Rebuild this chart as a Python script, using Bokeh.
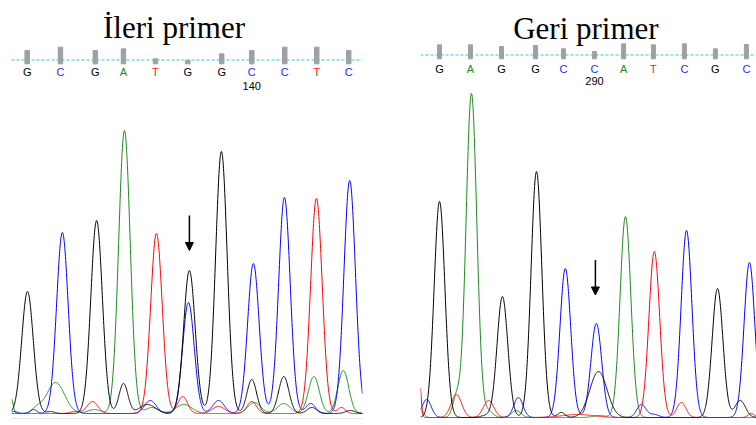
import numpy as np
from bokeh.plotting import figure
from bokeh.models import Range1d, Span, Label, Arrow, NormalHead, ColumnDataSource
from bokeh.layouts import row
from bokeh.embed import file_html
from bokeh.resources import INLINE
from bokeh.core.properties import value

# ---------------- data: left panel (forward primer) ----------------
L_title = "İleri primer"
L_bases = ["G", "C", "G", "A", "T", "G", "G", "C", "C", "T", "C"]
L_base_pos = [133.00, 134.04, 135.13, 136.01, 137.01, 138.02, 139.08, 140.02, 141.05, 142.05, 143.05]
L_qual = [40, 50, 40, 45, 15, 10, 30, 40, 50, 50, 40]
L_pos_label = "140"
L_pos_label_x = 140.02
L_arrow_x = 138.07
L_arrow_y = [1980, 1630]

# peaks per channel: centre (base units), height (signal), sigma (base units)
L_G_pos = [133.01, 135.17, 138.07, 139.07, 133.73, 136.01, 136.76, 140.02, 141.02, 141.90, 143.10]
L_G_h   = [1220, 1930, 1430, 2620, 20, 300, 90, 340, 370, 60, 30]
L_G_w   = [0.18, 0.18, 0.18, 0.18, 0.12, 0.14, 0.25, 0.15, 0.16, 0.15, 0.15]
L_A_pos = [136.04, 132.50, 133.30, 133.89, 135.10, 136.90, 137.90, 140.10, 141.02, 141.96, 142.88]
L_A_h   = [2830, 150, 50, 310, 40, 60, 90, 110, 100, 370, 430]
L_A_w   = [0.18, 0.06, 0.15, 0.28, 0.20, 0.20, 0.25, 0.20, 0.20, 0.17, 0.17]
L_C_pos = [134.10, 138.04, 140.07, 141.04, 143.08, 133.20, 136.85, 138.98, 141.86, 132.60]
L_C_h   = [1810, 1110, 1500, 2160, 2330, 40, 130, 130, 100, 20]
L_C_w   = [0.18, 0.18, 0.18, 0.18, 0.18, 0.10, 0.18, 0.18, 0.15, 0.10]
L_T_pos = [137.04, 142.04, 135.04, 137.86, 138.98, 140.02, 142.82, 134.50]
L_T_h   = [1800, 2150, 120, 170, 70, 120, 60, 20]
L_T_w   = [0.18, 0.18, 0.17, 0.15, 0.20, 0.15, 0.12, 0.15]

# ---------------- data: right panel (reverse primer) ----------------
R_title = "Geri primer"
R_bases = ["G", "A", "G", "G", "C", "C", "A", "T", "C", "G", "C"]
R_base_pos = [285.00, 286.01, 287.02, 288.13, 289.04, 290.05, 291.00, 291.97, 292.98, 293.99, 295.00]
R_qual = [42, 42, 37, 40, 30, 22, 45, 42, 45, 30, 43]
R_pos_label = "290"
R_pos_label_x = 290.05
R_arrow_x = 290.08
R_arrow_y = [1575, 1225]

R_G_pos = [285.00, 287.05, 288.16, 294.06, 290.18, 288.97, 294.80, 286.50]
R_G_h   = [2160, 1210, 2460, 1290, 460, 50, 170, 20]
R_G_w   = [0.175, 0.175, 0.175, 0.175, 0.28, 0.12, 0.17, 0.15]
R_A_pos = [286.04, 291.06, 284.42, 285.55, 286.60, 287.50, 290.20]
R_A_h   = [3240, 2010, 60, 200, 60, 70, 20]
R_A_w   = [0.175, 0.175, 0.08, 0.12, 0.15, 0.15, 0.20]
R_C_pos = [289.10, 290.11, 293.05, 295.10, 284.58, 287.57, 291.58, 292.00]
R_C_h   = [1490, 940, 1870, 1550, 180, 200, 130, 30]
R_C_w   = [0.175, 0.175, 0.175, 0.175, 0.15, 0.15, 0.15, 0.15]
R_T_pos = [292.00, 284.35, 285.55, 286.60, 289.50, 292.88, 295.16]
R_T_h   = [1660, 350, 230, 170, 30, 150, 40]
R_T_w   = [0.175, 0.05, 0.17, 0.17, 0.50, 0.15, 0.10]

TRACE_COLORS = {"G": "#000000", "A": "#1a8c1a", "C": "#0000ff", "T": "#ff0000"}
BASE_COLORS = {"G": "#000000", "A": "#1a8c1a", "C": "#2828ff", "T": "#ff2020"}


def trace(xs, pos, h, w):
    y = np.zeros_like(xs)
    for c, a, s in zip(pos, h, w):
        y += a * np.exp(-0.5 * ((xs - c) / s) ** 2)
    return y


def panel(title, title_x, title_y, bases, base_pos, qual, pos_label, pos_label_x,
          arrow_x, arrow_y, peaks, x_rng, y_rng, hdr_rng, hdr_levels, bar_w,
          width, border_l, border_r):
    p = figure(width=width, height=425, output_backend="svg", toolbar_location=None,
               x_axis_type=None, y_axis_type=None,
               x_range=Range1d(*x_rng), y_range=Range1d(*y_rng),
               min_border_left=border_l, min_border_right=border_r,
               min_border_top=0, min_border_bottom=0)
    p.outline_line_color = None
    p.background_fill_color = "white"
    p.border_fill_color = "white"
    p.extra_y_ranges = {"hdr": Range1d(*hdr_rng)}

    line_y, letter_y, num_y = hdr_levels

    # dashed cyan base-call line
    p.add_layout(Span(location=line_y, dimension="width", line_color="#30c8d8",
                      line_dash="3 2", line_width=1, y_range_name="hdr", level="underlay"))
    # quality bars
    p.vbar(x=base_pos, top=qual, bottom=0, width=bar_w, color="#a0a0a4",
           y_range_name="hdr")
    # base letters
    src = ColumnDataSource(dict(x=base_pos, y=[letter_y] * len(bases), t=bases,
                                c=[BASE_COLORS[b] for b in bases]))
    p.text(x="x", y="y", text="t", text_color="c", source=src, y_range_name="hdr",
           text_align="center", text_baseline="middle",
           text_font=value("Liberation Sans"), text_font_size="11px")
    # position number
    p.text(x=[pos_label_x], y=[num_y], text=[pos_label], text_color="#000000",
           y_range_name="hdr", text_align="center", text_baseline="middle",
           text_font=value("Liberation Sans"), text_font_size="11px")
    # title
    p.add_layout(Label(x=title_x, y=title_y, text=title, y_range_name="hdr",
                       text_align="center", text_baseline="alphabetic",
                       text_font="Liberation Serif", text_font_size="31px",
                       text_color="#000000"))

    xs = np.linspace(x_rng[0], x_rng[1], 1400)
    for ch in ["A", "C", "T", "G"]:
        pos, h, w = peaks[ch]
        p.line(xs, trace(xs, pos, h, w), line_color=TRACE_COLORS[ch], line_width=1)

    p.add_layout(Arrow(x_start=arrow_x, y_start=arrow_y[0], x_end=arrow_x, y_end=arrow_y[1],
                       line_width=1.5, line_color="#000000",
                       end=NormalHead(size=8, fill_color="#000000", line_color="#000000")))
    return p


pL = panel(L_title, 137.59, 108, L_bases, L_base_pos, L_qual, L_pos_label, L_pos_label_x,
           L_arrow_x, L_arrow_y,
           {"G": (L_G_pos, L_G_h, L_G_w), "A": (L_A_pos, L_A_h, L_A_w),
            "C": (L_C_pos, L_C_h, L_C_w), "T": (L_T_pos, L_T_h, L_T_w)},
           (132.51, 143.48), (-120, 4130), (-1085, 190), (11.5, -24, -66), 0.14,
           378, 11, 16)
pL.add_layout(Span(location=-50, dimension="width", line_color="#e4e4e4", line_width=1))

pR = panel(R_title, 289.77, 91, R_bases, R_base_pos, R_qual, R_pos_label, R_pos_label_x,
           R_arrow_x, R_arrow_y,
           {"G": (R_G_pos, R_G_h, R_G_w), "A": (R_A_pos, R_A_h, R_A_w),
            "C": (R_C_pos, R_C_h, R_C_w), "T": (R_T_pos, R_T_h, R_T_w)},
           (284.38, 295.33), (-80, 4170), (-1100, 175), (11.5, -29, -65), 0.13,
           378, 42, 0)

layout = row(pL, pR, spacing=0)
open("out.html", "w").write(file_html(layout, INLINE))
